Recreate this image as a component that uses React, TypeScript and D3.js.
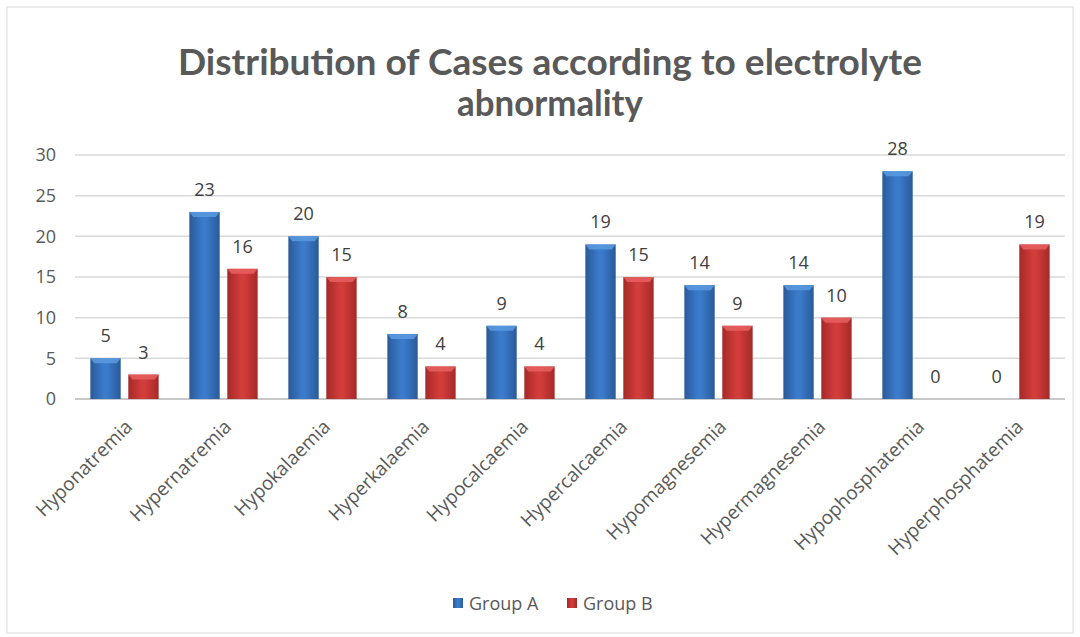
import React from "react";
import * as d3 from "d3";

const categories = [
  "Hyponatremia",
  "Hypernatremia",
  "Hypokalaemia",
  "Hyperkalaemia",
  "Hypocalcaemia",
  "Hypercalcaemia",
  "Hypomagnesemia",
  "Hypermagnesemia",
  "Hypophosphatemia",
  "Hyperphosphatemia",
];
const groupA = [5, 23, 20, 8, 9, 19, 14, 14, 28, 0];
const groupB = [3, 16, 15, 4, 4, 15, 9, 10, 0, 19];
const seriesNames = ["Group A", "Group B"];
const yTicks = [0, 5, 10, 15, 20, 25, 30];
const titleLines = ["Distribution of Cases according to electrolyte", "abnormality"];

const W = 1080;
const H = 637;
const plot = { left: 75, right: 1065, top: 155, bottom: 399 };

export default function App() {
  const y = d3.scaleLinear().domain([0, 30]).range([plot.bottom, plot.top]);
  const x0 = d3
    .scaleBand<string>()
    .domain(categories)
    .range([plot.left, plot.right])
    .paddingInner(0.31)
    .paddingOuter(0.155);
  const x1 = d3
    .scaleBand<string>()
    .domain(seriesNames)
    .range([0, x0.bandwidth()])
    .paddingInner(0.2);
  const series = [groupA, groupB];
  const fills = ["url(#gradA)", "url(#gradB)"];
  const bevel = ["#5b9be0", "#e86060"];
  const txt = "#595959";

  return (
    <svg
      width={W}
      height={H}
      style={{ position: "absolute", left: 0, top: 0, background: "#fff" }}
      fontFamily="'Open Sans', 'DejaVu Sans', sans-serif"
    >
      <defs>
        <linearGradient id="gradA" x1="0" x2="1" y1="0" y2="0">
          <stop offset="0" stopColor="#2a5a98" />
          <stop offset="0.45" stopColor="#3b7bcc" />
          <stop offset="0.55" stopColor="#3b7bcc" />
          <stop offset="1" stopColor="#2a5a98" />
        </linearGradient>
        <linearGradient id="gradB" x1="0" x2="1" y1="0" y2="0">
          <stop offset="0" stopColor="#a42a28" />
          <stop offset="0.45" stopColor="#d23c3a" />
          <stop offset="0.55" stopColor="#d23c3a" />
          <stop offset="1" stopColor="#a42a28" />
        </linearGradient>
      </defs>
      <rect x={7} y={7} width={1066} height={626} fill="#fff" stroke="#d9d9d9" strokeWidth={1} />

      {titleLines.map((t, i) => (
        <text
          key={i}
          x={550}
          y={75 + i * 41}
          textAnchor="middle"
          fontFamily="Lato, 'Open Sans', sans-serif"
          fontWeight="bold"
          fontSize={36}
          fill={txt}
          textLength={i === 0 ? 744 : 186}
          lengthAdjust="spacingAndGlyphs"
        >
          {t}
        </text>
      ))}

      {yTicks.map((t) => (
        <g key={t}>
          <line
            x1={plot.left}
            x2={plot.right}
            y1={y(t)}
            y2={y(t)}
            stroke={t === 0 ? "#c8c8c8" : "#d9d9d9"}
            strokeWidth={t === 0 ? 2 : 1.5}
          />
          <text x={56} y={y(t)} dy="0.35em" textAnchor="end" fontSize={18} fill={txt}>
            {t}
          </text>
        </g>
      ))}

      {categories.map((c, ci) => (
        <g key={c} transform={`translate(${x0(c)},0)`}>
          {series.map((s, si) => {
            const v = s[ci];
            const bx = x1(seriesNames[si])!;
            const bw = x1.bandwidth();
            const top = y(v);
            const h = plot.bottom - top;
            return (
              <g key={si}>
                {h > 0 && (
                  <>
                    <rect x={bx} y={top} width={bw} height={h} fill={fills[si]} />
                    <path
                      d={`M${bx},${top}L${bx + bw},${top}L${bx + bw - 4},${top + 5}L${bx + 4},${top + 5}Z`}
                      fill={bevel[si]}
                      opacity={0.85}
                    />
                  </>
                )}
                <text
                  x={bx + bw / 2}
                  y={top - 16}
                  textAnchor="middle"
                  fontSize={18}
                  fill="#404040"
                >
                  {v}
                </text>
              </g>
            );
          })}
        </g>
      ))}

      {categories.map((c) => {
        const cx = x0(c)! + x0.bandwidth() / 2 + 9;
        return (
          <text
            key={c}
            transform={`translate(${cx},${428}) rotate(-45)`}
            textAnchor="end"
            fontSize={19}
            fill={txt}
          >
            {c}
          </text>
        );
      })}

      {seriesNames.map((n, i) => {
        const lx = 453 + i * 114;
        return (
          <g key={n}>
            <rect x={lx} y={598} width={10} height={10} fill={fills[i]} />
            <text x={lx + 16} y={610} fontSize={18} fill={txt}>
              {n}
            </text>
          </g>
        );
      })}
    </svg>
  );
}
